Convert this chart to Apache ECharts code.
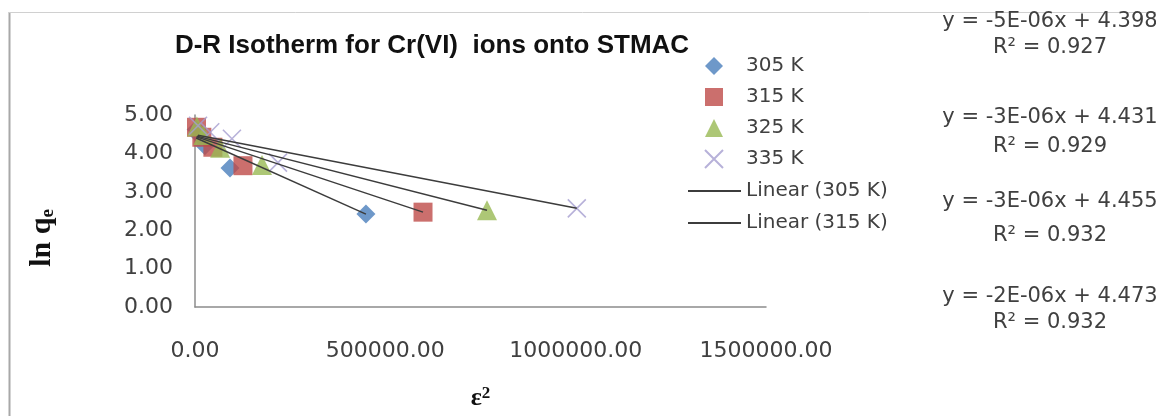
<!DOCTYPE html>
<html>
<head>
<meta charset="utf-8">
<script src="https://cdn.jsdelivr.net/npm/echarts@6/dist/echarts.min.js"></script>
<style>
html, body { margin: 0; padding: 0; background: #fff; }
#chartDR { width: 1156px; height: 416px; }
</style>
</head>
<body>
<div id="chartDR"></div>
<script>
// series names
var seriesNames = ['305 K', '315 K', '325 K', '335 K'];
var trendNames = ['Linear (305 K)', 'Linear (315 K)', 'Linear (325 K)', 'Linear (335 K)'];

// epsilon^2 (x) and ln qe (y)
var x305 = [3000, 12000, 26000, 92000, 449000];
var y305 = [4.62, 4.45, 4.20, 3.62, 2.42];
var x315 = [4000, 18000, 47000, 126000, 599000];
var y315 = [4.68, 4.42, 4.16, 3.68, 2.47];
var x325 = [5000, 22000, 66000, 176000, 767000];
var y325 = [4.70, 4.48, 4.15, 3.70, 2.52];
var x335 = [8000, 40000, 97000, 218000, 1003000];
var y335 = [4.72, 4.55, 4.38, 3.76, 2.57];

// trendline end points
var trendX0 = [3000, 4000, 5000, 8000];
var trendY0 = [4.40, 4.43, 4.45, 4.47];
var trendX1 = [449000, 599000, 767000, 1003000];
var trendY1 = [2.42, 2.47, 2.52, 2.57];

// equation labels
var equations = [
    'y = -5E-06x + 4.398', 'R² = 0.927',
    'y = -3E-06x + 4.431', 'R² = 0.929',
    'y = -3E-06x + 4.455', 'R² = 0.932',
    'y = -2E-06x + 4.473', 'R² = 0.932'
];

var yTicks = [0, 1, 2, 3, 4, 5];
var xTicks = [0, 500000, 1000000, 1500000];

function pairs(xs, ys) {
    var out = [];
    for (var i = 0; i < xs.length; i++) out.push([xs[i], ys[i]]);
    return out;
}

var markerColors = ['#4a7ebb', '#be4b48', '#98b954', '#a59dcf'];
var markerShapes = ['diamond', 'rect', 'triangle', 'path://M0,0L10,10M0,10L10,0'];
var markerSizes = [19, 19, 20, 18];
var allX = [x305, x315, x325, x335];
var allY = [y305, y315, y325, y335];

var series = [];
for (var i = 0; i < 4; i++) {
    var isCross = i === 3;
    series.push({
        name: seriesNames[i],
        type: 'scatter',
        symbol: markerShapes[i],
        symbolSize: markerSizes[i],
        itemStyle: isCross ? {
            color: 'rgba(0,0,0,0)',
            borderColor: markerColors[i],
            borderWidth: 1.6
        } : {
            color: markerColors[i]
        },
        data: pairs(allX[i], allY[i]),
        z: 2
    });
}
for (var j = 0; j < 4; j++) {
    series.push({
        name: trendNames[j],
        type: 'line',
        symbol: 'none',
        lineStyle: { color: '#3c3c3c', width: 1.5 },
        itemStyle: { color: 'rgba(0,0,0,0)', borderWidth: 0 },
        data: [[trendX0[j], trendY0[j]], [trendX1[j], trendY1[j]]],
        z: 3
    });
}

var eqGraphics = [];
var eqY = [22, 48, 118, 147, 202, 236, 297, 323];
for (var k = 0; k < equations.length; k++) {
    eqGraphics.push({
        type: 'text',
        x: 1050,
        y: eqY[k],
        style: {
            text: equations[k],
            fill: '#404040',
            font: '21px "DejaVu Sans"',
            textAlign: 'center',
            textVerticalAlign: 'middle'
        }
    });
}

var legendText = {
    color: '#404040',
    fontFamily: '"DejaVu Sans"',
    fontSize: 20
};

var myChart = echarts.init(document.getElementById('chartDR'));
var option = {
    backgroundColor: '#ffffff',
    animation: false,
    title: {
        text: 'D-R Isotherm for Cr(VI)  ions onto STMAC',
        left: 427,
        top: 28,
        textAlign: 'center',
        textStyle: {
            color: '#111',
            fontFamily: '"Liberation Sans", Arial',
            fontWeight: 'bold',
            fontSize: 26
        }
    },
    legend: [{
        orient: 'vertical',
        left: 699,
        top: 51,
        itemWidth: 18,
        itemHeight: 18,
        itemGap: 11,
        data: seriesNames,
        textStyle: Object.assign({ padding: [0, 0, 0, 18] }, legendText)
    }, {
        orient: 'vertical',
        left: 682,
        top: 176,
        itemWidth: 53,
        itemHeight: 14,
        itemGap: 12,
        data: trendNames.slice(0, 2),
        textStyle: legendText
    }],
    grid: {
        left: 195,
        right: 390,
        top: 115,
        bottom: 109,
        outerBoundsMode: 'none',
        containLabel: false
    },
    xAxis: {
        type: 'value',
        min: xTicks[0],
        max: xTicks[xTicks.length - 1],
        interval: 500000,
        name: '{b|ε}{sup|2}',
        nameLocation: 'middle',
        nameGap: 78,
        nameTextStyle: {
            rich: {
                b: { fontFamily: '"Liberation Serif", serif', fontWeight: 'bold', fontSize: 26, color: '#111' },
                sup: { fontFamily: '"Liberation Serif", serif', fontWeight: 'bold', fontSize: 17, verticalAlign: 'top', padding: [0, 0, 10, 0], color: '#111' }
            }
        },
        axisLine: { show: true, lineStyle: { color: '#8c8c8c', width: 1.5 } },
        axisTick: { show: false },
        splitLine: { show: false },
        axisLabel: {
            margin: 33,
            color: '#404040',
            fontFamily: '"DejaVu Sans"',
            fontSize: 22,
            formatter: function (v) { return v.toFixed(2); }
        }
    },
    yAxis: {
        type: 'value',
        min: yTicks[0],
        max: yTicks[yTicks.length - 1],
        interval: 1,
        name: '{b|ln q}{sub|e}',
        nameLocation: 'middle',
        nameGap: 137,
        nameTextStyle: {
            padding: [0, 54, 0, 0],
            rich: {
                b: { fontFamily: '"Liberation Serif", serif', fontWeight: 'bold', fontSize: 30, color: '#111' },
                sub: { fontFamily: '"Liberation Serif", serif', fontWeight: 'bold', fontSize: 19, verticalAlign: 'bottom', padding: [12, 0, 0, 0], color: '#111' }
            }
        },
        axisLine: { show: true, lineStyle: { color: '#8c8c8c', width: 1.5 } },
        axisTick: { show: false },
        splitLine: { show: false },
        axisLabel: {
            margin: 22,
            color: '#404040',
            fontFamily: '"DejaVu Sans"',
            fontSize: 22,
            formatter: function (v) { return v.toFixed(2); }
        }
    },
    graphic: [
        { type: 'line', shape: { x1: 9.5, y1: 12, x2: 9.5, y2: 416 }, style: { stroke: '#a8a8a8', lineWidth: 2 } },
        { type: 'line', shape: { x1: 9, y1: 12.5, x2: 1156, y2: 12.5 }, style: { stroke: '#d0d0d0', lineWidth: 1 } }
    ].concat(eqGraphics),
    series: series
};
myChart.setOption(option);
</script>
</body>
</html>
